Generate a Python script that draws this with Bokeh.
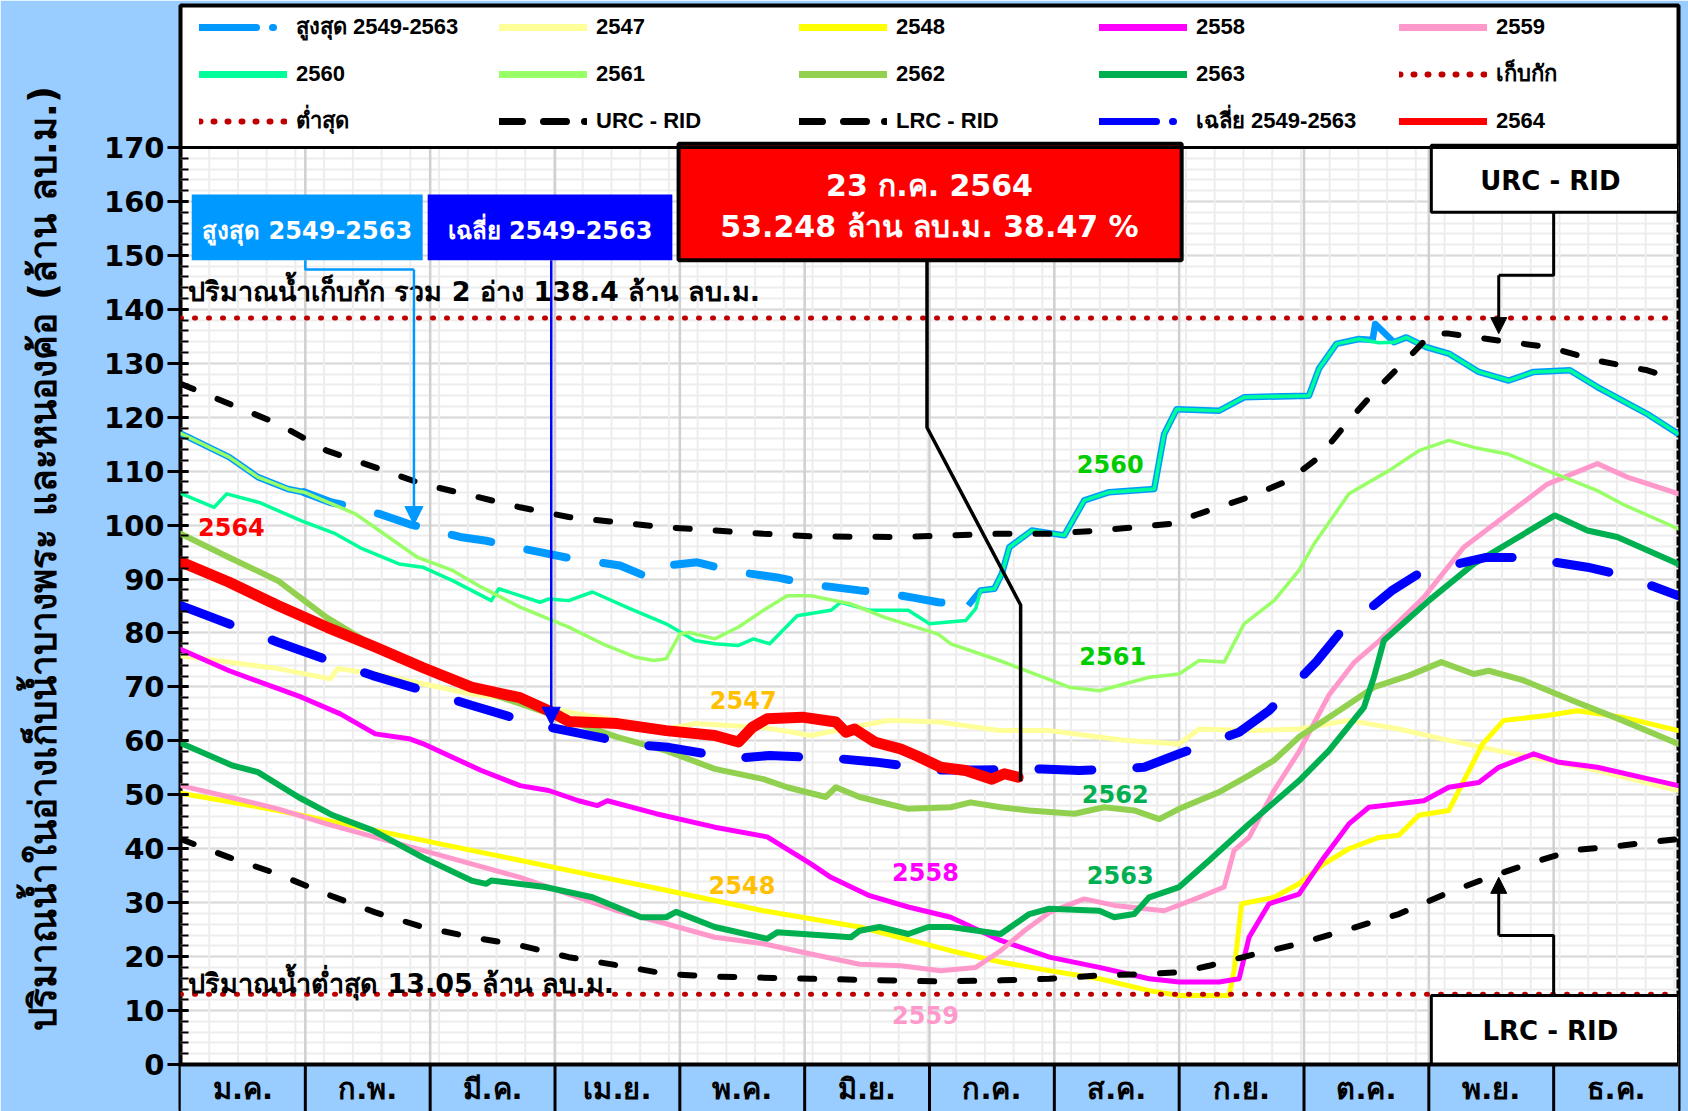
from bokeh.plotting import figure
from bokeh.models import (Range1d, FixedTicker, Legend, LegendItem, Span, Arrow, NormalHead, LinearAxis)
from bokeh.core.properties import value
from bokeh.embed import file_html
from bokeh.resources import INLINE

# ---------------- data (x in months from 1 Jan, 0..12; y in million m3) ----------------
MONTHS = ["ม.ค.", "ก.พ.", "มี.ค.", "เม.ย.", "พ.ค.", "มิ.ย.", "ก.ค.", "ส.ค.", "ก.ย.", "ต.ค.", "พ.ย.", "ธ.ค."]
Y_TICKS = list(range(0, 171, 10))
CAPACITY = 138.4
MINIMUM = 13.05

MAX_X = [0, 0.39, 0.62, 0.86, 0.99, 1.21, 1.4, 1.59, 1.83, 2.04, 2.24, 2.45, 2.66, 2.88, 3.09, 3.3, 3.52, 3.75,
         3.9, 4.14, 4.35, 4.56, 4.78, 5.02, 5.23, 5.44, 5.68, 5.88, 6.07, 6.31, 6.41, 6.52, 6.58, 6.64, 6.82,
         7.08, 7.24, 7.44, 7.8, 7.88, 7.98, 8.32, 8.52, 9.04, 9.12, 9.26, 9.44, 9.55, 9.57, 9.72, 9.82, 9.98,
         10.16, 10.4, 10.64, 10.84, 11.13, 11.35, 11.75, 12.0]
MAX_Y = [117.0, 112.6, 108.9, 106.7, 106.1, 104.2, 103.3, 102.1, 100.2, 99.0, 97.8, 97.1, 96.0, 95.0, 94.0,
         93.3, 92.5, 90.3, 92.5, 93.1, 91.9, 91.0, 90.3, 89.1, 88.5, 87.9, 87.3, 86.5, 85.7, 85.1, 87.9, 88.2,
         91.0, 95.9, 99.0, 98.1, 104.6, 106.1, 106.7, 116.9, 121.5, 121.2, 123.7, 124.0, 129.0, 133.6, 134.5,
         134.3, 137.3, 133.9, 134.8, 133.0, 131.8, 128.4, 126.8, 128.4, 128.7, 125.6, 120.6, 116.9]

Y2547_X = [0, 0.39, 0.78, 1.2, 1.26, 1.56, 1.94, 2.33, 2.72, 3.11, 3.5, 3.89, 4.12, 4.67, 5.05, 5.44, 5.68,
           6.08, 6.57, 6.96, 7.56, 8.0, 8.16, 8.56, 8.96, 9.36, 9.76, 10.16, 10.55, 10.95, 11.35, 12.0]
Y2547_Y = [75.8, 74.6, 73.4, 71.5, 73.4, 72.4, 70.6, 68.7, 67.5, 65.3, 63.8, 62.2, 63.2, 62.5, 61.0, 62.8,
           63.8, 63.5, 61.9, 61.9, 60.1, 59.4, 62.2, 61.9, 62.2, 63.8, 62.2, 60.1, 58.2, 56.4, 54.5, 50.8]

Y2548_X = [0, 0.78, 1.56, 2.33, 3.11, 3.89, 4.67, 5.44, 6.17, 6.57, 6.96, 7.36, 7.76, 8.0, 8.4, 8.44, 8.5,
           8.76, 8.96, 9.16, 9.36, 9.6, 9.76, 9.92, 10.16, 10.28, 10.43, 10.6, 10.95, 11.19, 11.55, 12.0]
Y2548_Y = [50.3, 47.1, 43.4, 39.7, 36.0, 32.3, 28.5, 25.5, 21.1, 19.0, 17.4, 15.9, 13.7, 12.8, 12.8, 17.4,
           29.8, 31.0, 33.5, 37.2, 40.0, 42.1, 42.5, 46.2, 47.1, 52.6, 59.4, 63.8, 64.7, 65.6, 64.4, 61.9]

Y2558_X = [0, 0.39, 0.97, 1.28, 1.56, 1.83, 1.94, 2.41, 2.72, 2.95, 3.19, 3.34, 3.42, 3.81, 4.28, 4.7, 5.05,
           5.21, 5.52, 5.83, 6.17, 6.57, 6.96, 7.36, 7.76, 8.0, 8.32, 8.48, 8.56, 8.72, 8.96, 9.16, 9.36, 9.52,
           9.96, 10.16, 10.4, 10.56, 10.84, 11.03, 11.35, 11.75, 12.0]
Y2558_Y = [77.0, 73.0, 68.1, 65.0, 61.3, 60.4, 59.5, 54.5, 51.7, 50.8, 48.9, 48.0, 48.9, 46.5, 44.0, 42.2,
           37.2, 34.7, 31.3, 29.2, 27.3, 23.0, 19.9, 18.0, 15.9, 15.3, 15.3, 15.9, 23.6, 29.8, 31.6, 38.4, 44.6,
           47.7, 48.9, 51.4, 52.3, 55.1, 57.6, 56.1, 55.1, 53.0, 51.7]

Y2559_X = [0, 0.39, 0.78, 1.17, 1.52, 1.94, 2.33, 2.72, 3.11, 3.5, 3.89, 4.28, 4.67, 5.05, 5.44, 5.77, 6.09,
           6.37, 6.57, 6.76, 6.96, 7.24, 7.48, 7.88, 8.16, 8.36, 8.44, 8.56, 8.76, 8.96, 9.2, 9.4, 9.6, 9.96,
           10.28, 10.56, 10.95, 11.35, 11.59, 12.0]
Y2559_Y = [51.7, 49.6, 47.4, 44.6, 42.4, 39.7, 37.2, 34.7, 31.6, 28.5, 26.1, 23.6, 22.4, 20.5, 18.6, 18.3,
           17.4, 18.0, 21.1, 24.8, 28.2, 30.7, 29.5, 28.5, 31.0, 32.9, 39.7, 42.1, 50.8, 58.0, 68.5, 74.5, 78.5,
           86.6, 95.9, 100.8, 107.6, 111.4, 108.9, 105.8]

Y2560_X = [0, 0.27, 0.37, 0.63, 0.97, 1.24, 1.44, 1.75, 1.94, 2.18, 2.49, 2.55, 2.88, 2.95, 3.11, 3.3, 3.6,
           3.89, 4.12, 4.28, 4.47, 4.59, 4.72, 4.94, 5.21, 5.29, 5.52, 5.83, 6.0, 6.29, 6.37, 6.41, 6.52, 6.58,
           6.64, 6.82, 7.08, 7.24, 7.44, 7.8, 7.88, 7.98, 8.32, 8.52, 9.04, 9.12, 9.26, 9.44, 9.6, 9.72, 9.82,
           9.98, 10.16, 10.4, 10.64, 10.84, 11.13, 11.35, 11.75, 12.0]
Y2560_Y = [105.9, 103.3, 105.8, 104.2, 100.8, 98.4, 95.8, 92.8, 92.2, 89.7, 86.0, 88.2, 85.7, 86.3, 86.0,
           87.6, 84.5, 81.7, 78.6, 78.0, 77.7, 78.9, 78.0, 83.2, 84.2, 85.7, 84.2, 84.2, 81.7, 82.3, 84.5, 87.9,
           88.2, 91.0, 95.9, 99.0, 98.1, 104.6, 106.1, 106.7, 116.9, 121.5, 121.2, 123.7, 124.0, 129.0, 133.6,
           134.5, 133.8, 133.9, 134.8, 133.0, 131.8, 128.4, 126.8, 128.4, 128.7, 125.6, 120.6, 116.9]

Y2561_X = [0, 0.39, 0.62, 0.86, 0.99, 1.4, 1.9, 2.18, 2.41, 2.72, 3.11, 3.38, 3.65, 3.79, 3.89, 4.0, 4.08,
           4.28, 4.47, 4.67, 4.86, 5.05, 5.37, 5.64, 6.07, 6.17, 6.56, 7.12, 7.36, 7.76, 8.0, 8.16, 8.36, 8.52,
           8.76, 8.96, 9.08, 9.36, 9.68, 9.92, 10.16, 10.36, 10.63, 10.95, 11.35, 11.55, 12.0]
Y2561_Y = [117.0, 112.6, 108.9, 106.7, 106.1, 102.1, 94.0, 91.6, 88.5, 84.8, 81.1, 78.0, 75.5, 74.9, 75.2,
           79.8, 80.1, 78.9, 81.1, 84.2, 86.9, 86.9, 85.4, 82.9, 79.8, 78.0, 74.9, 69.95, 69.3, 71.8, 72.4, 74.9,
           74.6, 81.7, 86.0, 91.6, 96.5, 105.8, 110.1, 113.8, 115.7, 114.4, 113.2, 110.1, 106.4, 103.9, 99.3]

Y2562_X = [0, 0.39, 0.78, 1.17, 1.56, 1.94, 2.33, 2.72, 3.11, 3.5, 3.89, 4.28, 4.67, 4.86, 5.17, 5.25, 5.44,
           5.83, 6.17, 6.33, 6.57, 6.8, 7.16, 7.4, 7.64, 7.84, 8.0, 8.32, 8.56, 8.76, 8.96, 9.28, 9.56, 9.84,
           10.1, 10.36, 10.48, 10.76, 11.15, 11.55, 12.0]
Y2562_Y = [98.4, 94.0, 89.7, 82.9, 77.4, 73.6, 69.95, 66.9, 63.8, 60.7, 58.2, 54.8, 52.9, 51.4, 49.6, 51.4,
           49.6, 47.4, 47.7, 48.6, 47.7, 47.1, 46.5, 47.7, 47.1, 45.5, 47.4, 50.5, 53.6, 56.4, 60.7, 65.6, 69.95,
           72.1, 74.6, 72.4, 73.0, 71.2, 67.5, 63.8, 59.4]

Y2563_X = [0, 0.42, 0.62, 0.95, 1.22, 1.54, 1.94, 2.33, 2.45, 2.49, 2.92, 3.3, 3.69, 3.89, 3.97, 4.28, 4.7,
           4.78, 5.37, 5.44, 5.6, 5.83, 5.99, 6.17, 6.57, 6.8, 6.96, 7.36, 7.48, 7.64, 7.76, 8.0, 8.24, 8.56,
           8.96, 9.2, 9.48, 9.56, 9.64, 10.0, 10.36, 10.67, 11.01, 11.27, 11.51, 12.0]
Y2563_Y = [59.6, 55.4, 54.2, 49.5, 46.2, 43.4, 38.4, 34.1, 33.5, 34.1, 32.9, 31.0, 27.3, 27.3, 28.3, 25.5,
           23.3, 24.5, 23.6, 24.8, 25.5, 24.2, 25.5, 25.5, 24.2, 27.9, 28.9, 28.5, 27.3, 27.9, 31.0, 32.9, 37.8,
           44.6, 52.6, 58.2, 66.2, 71.8, 78.6, 86.0, 92.8, 97.1, 101.8, 99.0, 97.8, 92.8]

URC_X = [0, 0.39, 0.78, 1.17, 1.56, 1.94, 2.33, 2.72, 3.11, 3.5, 3.89, 4.28, 4.67, 5.05, 5.77, 6.56, 6.96,
         7.36, 7.92, 8.16, 8.56, 8.88, 9.12, 9.36, 9.6, 9.84, 10.02, 10.16, 10.56, 10.96, 11.35, 11.75, 12.0]
URC_Y = [126.2, 122.5, 118.8, 113.8, 110.7, 107.6, 105.5, 103.3, 101.5, 100.5, 99.6, 99.0, 98.4, 97.9, 97.8,
         98.4, 98.4, 99.0, 100.2, 102.1, 105.2, 108.3, 112.6, 119.4, 125.6, 131.1, 135.5, 135.5, 134.2, 133.0,
         130.5, 128.7, 126.8]

LRC_X = [0, 0.39, 0.78, 1.17, 1.56, 1.94, 2.33, 2.72, 3.11, 3.5, 3.89, 4.28, 5.05, 6.07, 6.57, 6.96, 7.36,
         7.76, 8.0, 8.24, 8.56, 8.96, 9.36, 9.76, 10.16, 10.48, 10.8, 11.15, 11.55, 11.87, 12.0]
LRC_Y = [41.8, 38.4, 35.3, 31.6, 28.2, 25.5, 23.6, 22.1, 19.9, 18.4, 16.8, 16.3, 15.9, 15.4, 15.6, 15.9, 16.5,
         16.8, 17.1, 18.3, 20.2, 22.4, 25.1, 27.9, 31.9, 34.7, 37.2, 39.7, 40.6, 41.5, 41.8]

AVG_X = [0, 0.49, 0.78, 1.26, 1.54, 2.04, 2.33, 2.84, 3.11, 3.64, 3.91, 4.43, 4.72, 5.27, 5.56, 6.07, 6.4,
         6.9, 7.2, 7.72, 8.0, 8.48, 8.72, 9.1, 9.28, 9.7, 9.94, 10.46, 10.76, 11.27, 11.57, 12.0]
AVG_Y = [85.1, 80.8, 78.3, 74.3, 72.1, 68.7, 66.6, 63.1, 61.8, 59.3, 58.8, 56.7, 57.3, 56.7, 56.1, 54.6, 54.6,
         54.8, 54.5, 55.1, 57.6, 61.6, 65.6, 74.7, 79.8, 87.8, 91.3, 94.0, 94.0, 92.2, 90.6, 86.9]

Y2564_X = [0, 0.39, 0.78, 1.17, 1.56, 1.94, 2.33, 2.72, 2.95, 3.11, 3.5, 3.89, 4.28, 4.47, 4.58, 4.7, 4.98,
           5.25, 5.33, 5.4, 5.56, 5.77, 5.9, 6.09, 6.29, 6.5, 6.6, 6.71]
Y2564_Y = [93.2, 89.4, 85.1, 81.1, 77.4, 73.6, 69.95, 68.0, 65.6, 63.6, 63.2, 61.9, 61.0, 59.8, 62.5, 64.1,
           64.4, 63.5, 61.6, 62.2, 59.8, 58.5, 57.2, 55.1, 54.5, 52.9, 53.9, 53.25]

LATEST_DATE = "23 ก.ค. 2564"
LATEST_VALUE = "53.248 ล้าน ลบ.ม. 38.47 %"

# ---------------- figure ----------------
FONT = "DejaVu Sans"
BG = "#99CCFF"
W, H = 1688, 1111
p = figure(width=W, height=H, x_range=Range1d(0, 12), y_range=Range1d(-8.71, 196.33),
           output_backend="svg", toolbar_location=None, x_axis_location=None, y_axis_location="left",
           min_border_left=180, min_border_right=10, min_border_top=5, min_border_bottom=0,
           background_fill_color="white", border_fill_color=BG,
           outline_line_color="black", outline_line_width=4)

ax = p.yaxis[0]
ax.ticker = FixedTicker(ticks=Y_TICKS, minor_ticks=list(range(0, 171, 2)))
ax.axis_line_color = None
ax.major_tick_line_color = "black"
ax.major_tick_line_width = 3
ax.major_tick_out = 13
ax.major_tick_in = 8
ax.minor_tick_line_color = "black"
ax.minor_tick_line_width = 2
ax.minor_tick_out = 0
ax.minor_tick_in = 8
ax.major_label_text_font = FONT
ax.major_label_text_font_size = "29px"
ax.major_label_text_font_style = "bold"
ax.major_label_text_color = "black"
ax.major_label_standoff = 3

title_axis = LinearAxis(bounds=(41, 170), ticker=FixedTicker(ticks=[]), axis_line_color=None,
                        major_tick_line_color=None, minor_tick_line_color=None,
                        major_label_text_font_size="0px",
                        axis_label="ปริมาณน้ำในอ่างเก็บน้ำบางพระ และหนองค้อ (ล้าน ลบ.ม.)",
                        axis_label_text_font=FONT, axis_label_text_font_size="37px",
                        axis_label_text_font_style="bold", axis_label_text_color="black",
                        axis_label_standoff=36)
p.add_layout(title_axis, "left")

p.ygrid.grid_line_color = "#D9D9D9"
p.ygrid.grid_line_width = 2
p.ygrid.minor_grid_line_color = "#EDEDED"
p.ygrid.minor_grid_line_width = 2
p.xgrid.visible = False

weeks = [7 * k * 12 / 365 for k in range(1, 53)]
month_edges = list(range(1, 12))
p.segment(x0=weeks, y0=0, x1=weeks, y1=170, line_color="#EDEDED", line_width=2)
p.segment(x0=month_edges, y0=0, x1=month_edges, y1=170, line_color="#D0D0D0", line_width=2.5)

# month band
p.quad(left=list(range(12)), right=list(range(1, 13)), bottom=-9, top=0, fill_color=BG, line_color=None)
p.segment(x0=month_edges, y0=-9, x1=month_edges, y1=0, line_color="black", line_width=3)
p.text(x=[i + 0.5 for i in range(12)], y=-4.6, text=MONTHS, text_align="center", text_baseline="middle",
       text_font=value(FONT), text_font_size="29px", text_font_style="bold", text_color="black")
p.add_layout(Span(location=0, dimension="width", line_color="black", line_width=4))
p.add_layout(Span(location=170, dimension="width", line_color="black", line_width=3))

# ---------------- series (drawn in legend order) ----------------
mx_solid1 = [(x, y) for x, y in zip(MAX_X, MAX_Y) if x <= 0.99]
mx_dash = [(x, y) for x, y in zip(MAX_X, MAX_Y) if 0.99 <= x <= 6.31]
mx_solid2 = [(x, y) for x, y in zip(MAX_X, MAX_Y) if x >= 6.31]
for seg in (mx_solid1, mx_solid2):
    p.line([s[0] for s in seg], [s[1] for s in seg], line_color="#0099FF", line_width=6.5, line_join="round")
p.line([s[0] for s in mx_dash], [s[1] for s in mx_dash], line_color="#0099FF",
       line_width=8, line_dash="40 37", line_cap="round")

def yr(xs, ys, color, width):
    p.line(xs, ys, line_color=color, line_width=width, line_join="round", line_cap="round")

yr(Y2547_X, Y2547_Y, "#FFFF99", 5)
yr(Y2548_X, Y2548_Y, "#FFFF00", 5)
yr(Y2558_X, Y2558_Y, "#FF00FF", 5)
yr(Y2559_X, Y2559_Y, "#FF99CC", 5)
yr(Y2560_X, Y2560_Y, "#00FF99", 3.5)
yr(Y2561_X, Y2561_Y, "#99FF66", 3.5)
yr(Y2562_X, Y2562_Y, "#92D050", 6)
yr(Y2563_X, Y2563_Y, "#00B050", 6)
p.line([0, 12], [CAPACITY, CAPACITY], line_color="#C00000", line_width=5, line_dash="1 13", line_cap="round")
p.line([0, 12], [MINIMUM, MINIMUM], line_color="#C00000", line_width=5, line_dash="1 13", line_cap="round")
p.line(URC_X, URC_Y, line_color="black", line_width=6, line_dash="14 26", line_cap="round")
p.line(LRC_X, LRC_Y, line_color="black", line_width=6, line_dash="14 26", line_cap="round")
p.line(AVG_X, AVG_Y, line_color="#0000FF", line_width=9, line_dash="53 45", line_cap="round")
yr(Y2564_X, Y2564_Y, "#FF0000", 11)

# ---------------- annotations ----------------
def box(l, r, b, t, fill, lw):
    p.quad(left=l, right=r, bottom=b, top=t, fill_color=fill, line_color="black" if lw else None, line_width=lw)

box(0.09, 1.94, 149.1, 161.3, "#0099FF", 0)
box(1.98, 3.94, 149.1, 161.3, "#0000FF", 0)
box(3.99, 8.02, 149.1, 170.7, "#FF0000", 4)
box(10.02, 12.0, 158.0, 170.4, "white", 3)
box(10.02, 12.0, 0.0, 12.8, "white", 3)

p.text(x=[1.015, 2.96], y=154.6, text=["สูงสุด 2549-2563", "เฉลี่ย 2549-2563"], text_align="center",
       text_baseline="middle", text_font=value(FONT), text_font_size="24px", text_font_style="bold",
       text_color="white")
p.text(x=[6.0, 6.0], y=[162.9, 155.4], text=[LATEST_DATE, LATEST_VALUE], text_align="center",
       text_baseline="middle", text_font=value(FONT), text_font_size="30px", text_font_style="bold",
       text_color="white")
p.text(x=[11.01, 11.01], y=[163.8, 6.2], text=["URC  - RID", "LRC  - RID"], text_align="center",
       text_baseline="middle", text_font=value(FONT), text_font_size="26px", text_font_style="bold",
       text_color="black")
p.text(x=[0.06, 0.06], y=[143.4, 15.0],
       text=["ปริมาณน้ำเก็บกัก  รวม 2 อ่าง %s ล้าน ลบ.ม." % CAPACITY,
             "ปริมาณน้ำต่ำสุด  %s ล้าน ลบ.ม." % MINIMUM],
       text_align="left", text_baseline="middle", text_font=value(FONT), text_font_size="27px",
       text_font_style="bold", text_color="black")

# series labels
p.text(x=[0.14, 4.24, 4.23, 5.7, 5.7, 7.18, 7.2, 7.22, 7.26],
       y=[99.6, 67.5, 33.2, 35.6, 9.1, 111.4, 75.7, 50.2, 35.2],
       text=["2564", "2547", "2548", "2558", "2559", "2560", "2561", "2562", "2563"],
       text_color=["#FF0000", "#FFC000", "#FFC000", "#FF00FF", "#FF99CC", "#00CC00", "#00CC00", "#00B050",
                   "#00B050"],
       text_align="left", text_baseline="middle", text_font=value(FONT), text_font_size="24px",
       text_font_style="bold")

# connectors
p.line([1.0, 1.0, 1.87], [149.1, 147.4, 147.4], line_color="#0099FF", line_width=2.5)
p.add_layout(Arrow(x_start=1.87, y_start=147.4, x_end=1.87, y_end=100.1, line_color="#0099FF", line_width=2.5,
                   end=NormalHead(size=18, fill_color="#0099FF", line_color="#0099FF")))
p.add_layout(Arrow(x_start=2.97, y_start=149.1, x_end=2.97, y_end=62.9, line_color="#0000FF", line_width=2.5,
                   end=NormalHead(size=18, fill_color="#0000FF", line_color="#0000FF")))
p.line([5.98, 5.98, 6.73, 6.73], [149.1, 118.1, 85.2, 52.5], line_color="black", line_width=3.5)
p.line([11.0, 11.0, 10.56], [158.0, 146.3, 146.3], line_color="black", line_width=3)
p.add_layout(Arrow(x_start=10.56, y_start=146.3, x_end=10.56, y_end=135.5, line_color="black", line_width=3,
                   end=NormalHead(size=16, fill_color="black", line_color="black")))
p.line([11.0, 11.0, 10.56], [12.8, 23.9, 23.9], line_color="black", line_width=3)
p.add_layout(Arrow(x_start=10.56, y_start=23.9, x_end=10.56, y_end=34.7, line_color="black", line_width=3,
                   end=NormalHead(size=16, fill_color="black", line_color="black")))

# ---------------- legend (proxy swatches styled like the reference legend) ----------------
NAN = float("nan")

def swatch(color, dash="solid", width=7):
    return p.line(x=[NAN], y=[NAN], line_color=color, line_width=width, line_dash=dash, line_cap="round")

order = [("สูงสุด 2549-2563", swatch("#0099FF", "57 16 1 30")), ("2547", swatch("#FFFF99")),
         ("2548", swatch("#FFFF00")), ("2558", swatch("#FF00FF")), ("2559", swatch("#FF99CC")),
         ("2560", swatch("#00FF99")), ("2561", swatch("#99FF66")), ("2562", swatch("#92D050")),
         ("2563", swatch("#00B050")), ("เก็บกัก", swatch("#C00000", "1 13", 6)),
         ("ต่ำสุด", swatch("#C00000", "1 13", 6)), ("URC - RID", swatch("black", "23 21 23 18 1 40")),
         ("LRC - RID", swatch("black", "23 21 23 18 1 40")),
         ("เฉลี่ย 2549-2563", swatch("#0000FF", "57 16 1 30")), ("2564", swatch("#FF0000"))]
legend = Legend(items=[LegendItem(label=lab, renderers=[r]) for lab, r in order],
                orientation="horizontal", ncols=5, location=(19, 973),
                glyph_width=88, glyph_height=30, label_height=30, label_width=191, label_standoff=9,
                spacing=12, padding=4, margin=0, border_line_color=None, background_fill_alpha=0,
                label_text_font="Liberation Sans", label_text_font_size="22px", label_text_font_style="bold",
                label_text_color="black")
p.add_layout(legend, "center")

html = file_html(p, INLINE)
html = html.replace("<body>", '<body style="background-color:%s;">' % BG, 1)
open("out.html", "w").write(html)
